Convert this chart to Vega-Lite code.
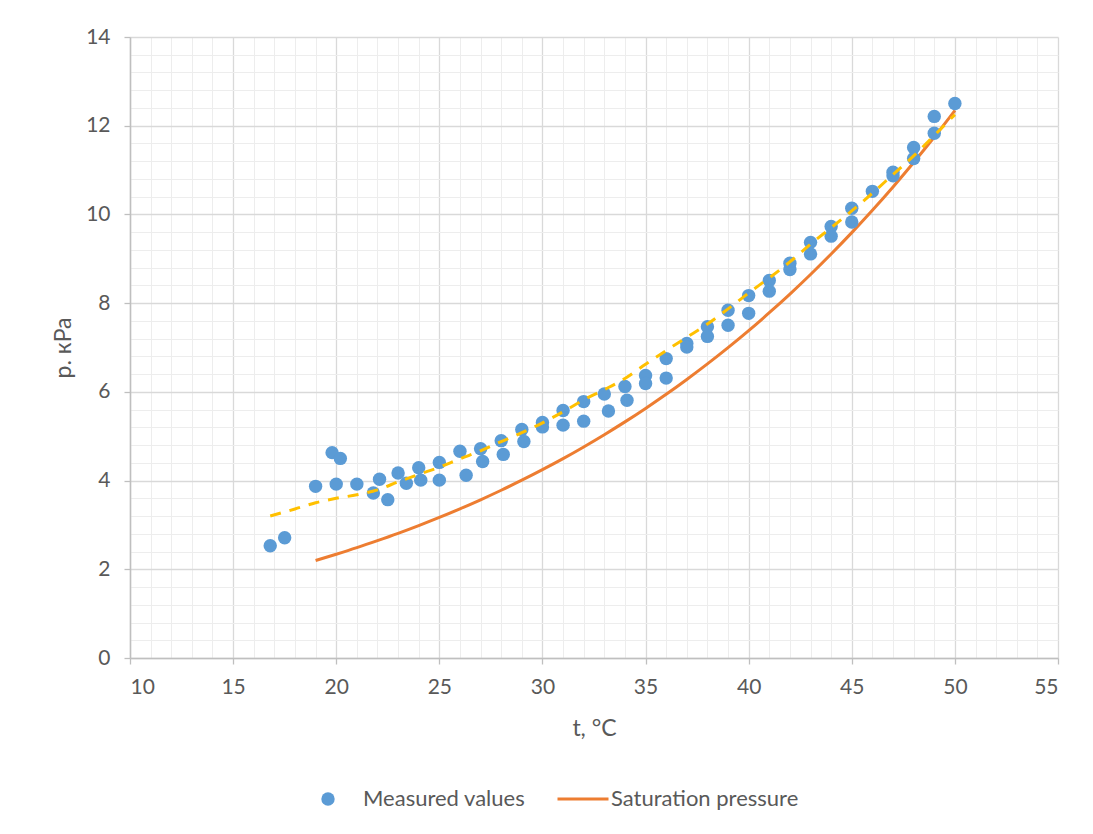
{
  "$schema": "https://vega.github.io/schema/vega-lite/v6.json",
  "width": 928,
  "height": 621,
  "autosize": "none",
  "padding": {"left": 130, "top": 37, "right": 35, "bottom": 176},
  "background": "white",
  "config": {
    "view": {"stroke": null},
    "font": "Lato",
    "axis": {"labelFont": "Lato", "titleFont": "Lato", "labelColor": "#595959", "titleColor": "#595959", "titleFontWeight": "normal"},
    "legend": {"labelFont": "Lato", "labelColor": "#595959", "labelLimit": 500}
  },
  "datasets": {
    "measured": [
      {"t": 16.8, "p": 2.53, "series": "Measured values"},
      {"t": 17.5, "p": 2.71, "series": "Measured values"},
      {"t": 19.0, "p": 3.87, "series": "Measured values"},
      {"t": 19.8, "p": 4.63, "series": "Measured values"},
      {"t": 20.0, "p": 3.92, "series": "Measured values"},
      {"t": 20.2, "p": 4.5, "series": "Measured values"},
      {"t": 21.0, "p": 3.92, "series": "Measured values"},
      {"t": 21.8, "p": 3.72, "series": "Measured values"},
      {"t": 22.1, "p": 4.03, "series": "Measured values"},
      {"t": 22.5, "p": 3.57, "series": "Measured values"},
      {"t": 23.0, "p": 4.17, "series": "Measured values"},
      {"t": 23.4, "p": 3.94, "series": "Measured values"},
      {"t": 24.0, "p": 4.29, "series": "Measured values"},
      {"t": 24.1, "p": 4.01, "series": "Measured values"},
      {"t": 25.0, "p": 4.41, "series": "Measured values"},
      {"t": 25.0, "p": 4.01, "series": "Measured values"},
      {"t": 26.0, "p": 4.66, "series": "Measured values"},
      {"t": 26.3, "p": 4.12, "series": "Measured values"},
      {"t": 27.0, "p": 4.72, "series": "Measured values"},
      {"t": 27.1, "p": 4.43, "series": "Measured values"},
      {"t": 28.0, "p": 4.9, "series": "Measured values"},
      {"t": 28.1, "p": 4.59, "series": "Measured values"},
      {"t": 29.0, "p": 5.15, "series": "Measured values"},
      {"t": 29.1, "p": 4.88, "series": "Measured values"},
      {"t": 30.0, "p": 5.31, "series": "Measured values"},
      {"t": 30.0, "p": 5.21, "series": "Measured values"},
      {"t": 31.0, "p": 5.58, "series": "Measured values"},
      {"t": 31.0, "p": 5.25, "series": "Measured values"},
      {"t": 32.0, "p": 5.78, "series": "Measured values"},
      {"t": 32.0, "p": 5.34, "series": "Measured values"},
      {"t": 33.0, "p": 5.95, "series": "Measured values"},
      {"t": 33.2, "p": 5.57, "series": "Measured values"},
      {"t": 34.0, "p": 6.12, "series": "Measured values"},
      {"t": 34.1, "p": 5.81, "series": "Measured values"},
      {"t": 35.0, "p": 6.37, "series": "Measured values"},
      {"t": 35.0, "p": 6.19, "series": "Measured values"},
      {"t": 36.0, "p": 6.75, "series": "Measured values"},
      {"t": 36.0, "p": 6.31, "series": "Measured values"},
      {"t": 37.0, "p": 7.09, "series": "Measured values"},
      {"t": 37.0, "p": 7.01, "series": "Measured values"},
      {"t": 38.0, "p": 7.47, "series": "Measured values"},
      {"t": 38.0, "p": 7.25, "series": "Measured values"},
      {"t": 39.0, "p": 7.84, "series": "Measured values"},
      {"t": 39.0, "p": 7.5, "series": "Measured values"},
      {"t": 40.0, "p": 8.17, "series": "Measured values"},
      {"t": 40.0, "p": 7.77, "series": "Measured values"},
      {"t": 41.0, "p": 8.51, "series": "Measured values"},
      {"t": 41.0, "p": 8.27, "series": "Measured values"},
      {"t": 42.0, "p": 8.9, "series": "Measured values"},
      {"t": 42.0, "p": 8.76, "series": "Measured values"},
      {"t": 43.0, "p": 9.37, "series": "Measured values"},
      {"t": 43.0, "p": 9.11, "series": "Measured values"},
      {"t": 44.0, "p": 9.73, "series": "Measured values"},
      {"t": 44.0, "p": 9.51, "series": "Measured values"},
      {"t": 45.0, "p": 10.14, "series": "Measured values"},
      {"t": 45.0, "p": 9.83, "series": "Measured values"},
      {"t": 46.0, "p": 10.52, "series": "Measured values"},
      {"t": 47.0, "p": 10.95, "series": "Measured values"},
      {"t": 47.0, "p": 10.87, "series": "Measured values"},
      {"t": 48.0, "p": 11.51, "series": "Measured values"},
      {"t": 48.0, "p": 11.26, "series": "Measured values"},
      {"t": 49.0, "p": 12.21, "series": "Measured values"},
      {"t": 49.0, "p": 11.83, "series": "Measured values"},
      {"t": 50.0, "p": 12.5, "series": "Measured values"}
    ],
    "saturation": [
      {"t": 19, "p": 2.197, "series": "Saturation pressure"},
      {"t": 20, "p": 2.339, "series": "Saturation pressure"},
      {"t": 21, "p": 2.487, "series": "Saturation pressure"},
      {"t": 22, "p": 2.645, "series": "Saturation pressure"},
      {"t": 23, "p": 2.810, "series": "Saturation pressure"},
      {"t": 24, "p": 2.985, "series": "Saturation pressure"},
      {"t": 25, "p": 3.169, "series": "Saturation pressure"},
      {"t": 26, "p": 3.363, "series": "Saturation pressure"},
      {"t": 27, "p": 3.567, "series": "Saturation pressure"},
      {"t": 28, "p": 3.782, "series": "Saturation pressure"},
      {"t": 29, "p": 4.008, "series": "Saturation pressure"},
      {"t": 30, "p": 4.246, "series": "Saturation pressure"},
      {"t": 31, "p": 4.495, "series": "Saturation pressure"},
      {"t": 32, "p": 4.758, "series": "Saturation pressure"},
      {"t": 33, "p": 5.034, "series": "Saturation pressure"},
      {"t": 34, "p": 5.323, "series": "Saturation pressure"},
      {"t": 35, "p": 5.627, "series": "Saturation pressure"},
      {"t": 36, "p": 5.945, "series": "Saturation pressure"},
      {"t": 37, "p": 6.280, "series": "Saturation pressure"},
      {"t": 38, "p": 6.630, "series": "Saturation pressure"},
      {"t": 39, "p": 6.997, "series": "Saturation pressure"},
      {"t": 40, "p": 7.381, "series": "Saturation pressure"},
      {"t": 41, "p": 7.784, "series": "Saturation pressure"},
      {"t": 42, "p": 8.205, "series": "Saturation pressure"},
      {"t": 43, "p": 8.646, "series": "Saturation pressure"},
      {"t": 44, "p": 9.108, "series": "Saturation pressure"},
      {"t": 45, "p": 9.590, "series": "Saturation pressure"},
      {"t": 46, "p": 10.094, "series": "Saturation pressure"},
      {"t": 47, "p": 10.620, "series": "Saturation pressure"},
      {"t": 48, "p": 11.171, "series": "Saturation pressure"},
      {"t": 49, "p": 11.745, "series": "Saturation pressure"},
      {"t": 50, "p": 12.344, "series": "Saturation pressure"}
    ],
    "trend": [
      {"t": 16.8, "p": 3.2},
      {"t": 18, "p": 3.36},
      {"t": 19, "p": 3.5},
      {"t": 20, "p": 3.6},
      {"t": 21, "p": 3.68},
      {"t": 22, "p": 3.79},
      {"t": 23, "p": 3.97},
      {"t": 24, "p": 4.14},
      {"t": 25, "p": 4.3},
      {"t": 26, "p": 4.49},
      {"t": 27, "p": 4.67},
      {"t": 28, "p": 4.88},
      {"t": 29, "p": 5.08},
      {"t": 30, "p": 5.3},
      {"t": 31, "p": 5.55},
      {"t": 32, "p": 5.82},
      {"t": 33, "p": 6.05},
      {"t": 34, "p": 6.3},
      {"t": 35, "p": 6.62},
      {"t": 36, "p": 6.93},
      {"t": 37, "p": 7.23},
      {"t": 38, "p": 7.53},
      {"t": 39, "p": 7.87},
      {"t": 40, "p": 8.23},
      {"t": 41, "p": 8.57},
      {"t": 42, "p": 8.93},
      {"t": 43, "p": 9.33},
      {"t": 44, "p": 9.7},
      {"t": 45, "p": 10.08},
      {"t": 46, "p": 10.48},
      {"t": 47, "p": 10.9},
      {"t": 48, "p": 11.32},
      {"t": 49, "p": 11.78},
      {"t": 50, "p": 12.25}
    ]
  },
  "layer": [
    {
      "data": {"name": "measured"},
      "mark": {"type": "point", "opacity": 0},
      "encoding": {
        "x": {"field": "t", "type": "quantitative", "scale": {"domain": [10, 55], "nice": false, "zero": false},
          "axis": {"orient": "bottom", "values": [10,11,12,13,14,15,16,17,18,19,20,21,22,23,24,25,26,27,28,29,30,31,32,33,34,35,36,37,38,39,40,41,42,43,44,45,46,47,48,49,50,51,52,53,54,55],
            "grid": true, "gridColor": "#EDEDED", "gridWidth": 1, "labels": false, "ticks": false, "domain": false, "title": null}},
        "y": {"field": "p", "type": "quantitative", "scale": {"domain": [0, 14], "nice": false},
          "axis": {"orient": "left", "values": [0,0.4,0.8,1.2,1.6,2,2.4,2.8,3.2,3.6,4,4.4,4.8,5.2,5.6,6,6.4,6.8,7.2,7.6,8,8.4,8.8,9.2,9.6,10,10.4,10.8,11.2,11.6,12,12.4,12.8,13.2,13.6,14],
            "grid": true, "gridColor": "#EDEDED", "gridWidth": 1, "labels": false, "ticks": false, "domain": false, "title": null}}
      }
    },
    {
      "data": {"name": "measured"},
      "mark": {"type": "point", "opacity": 0},
      "encoding": {
        "x": {"field": "t", "type": "quantitative",
          "axis": {"orient": "bottom", "values": [10,15,20,25,30,35,40,45,50,55], "grid": true, "gridColor": "#D9D9D9", "gridWidth": 1.3,
            "domain": true, "domainColor": "#BFBFBF", "domainWidth": 1.5, "ticks": true, "tickColor": "#BFBFBF", "tickSize": 6, "tickWidth": 1.3,
            "labelFontSize": 21, "labelPadding": 12, "title": "t, °C", "titleFontSize": 23, "titlePadding": 20}},
        "y": {"field": "p", "type": "quantitative",
          "axis": {"orient": "left", "values": [0,2,4,6,8,10,12,14], "grid": true, "gridColor": "#D9D9D9", "gridWidth": 1.3,
            "domain": true, "domainColor": "#BFBFBF", "domainWidth": 1.5, "ticks": true, "tickColor": "#BFBFBF", "tickSize": 6, "tickWidth": 1.3,
            "labelFontSize": 21, "labelPadding": 14, "title": "p. кPa", "titleFontSize": 23, "titlePadding": 10}}
      }
    },
    {
      "data": {"name": "saturation"},
      "mark": {"type": "line", "strokeWidth": 3, "interpolate": "monotone"},
      "encoding": {
        "x": {"field": "t", "type": "quantitative", "axis": null},
        "y": {"field": "p", "type": "quantitative", "axis": null},
        "stroke": {"field": "series", "type": "nominal",
          "scale": {"domain": ["Saturation pressure"], "range": ["#ED7D31"]},
          "legend": {"orient": "none", "legendX": 426, "legendY": 735, "title": null, "symbolType": "stroke", "symbolSize": 2601, "symbolStrokeWidth": 3, "labelFontSize": 22, "labelOffset": 1, "labelLimit": 500}}
      }
    },
    {
      "data": {"name": "measured"},
      "mark": {"type": "circle", "size": 180, "opacity": 1},
      "encoding": {
        "x": {"field": "t", "type": "quantitative", "axis": null},
        "y": {"field": "p", "type": "quantitative", "axis": null},
        "fill": {"field": "series", "type": "nominal",
          "scale": {"domain": ["Measured values"], "range": ["#5B9BD5"]},
          "legend": {"orient": "none", "legendX": 187, "legendY": 751, "title": null, "symbolType": "circle", "symbolSize": 180, "labelFontSize": 22, "labelOffset": 24, "labelLimit": 500}}
      }
    },
    {
      "data": {"name": "trend"},
      "mark": {"type": "line", "stroke": "#FFC000", "strokeWidth": 3, "strokeDash": [11, 9], "interpolate": "monotone"},
      "encoding": {
        "x": {"field": "t", "type": "quantitative", "axis": null},
        "y": {"field": "p", "type": "quantitative", "axis": null}
      }
    }
  ],
  "resolve": {"axis": {"x": "independent", "y": "independent"}}
}
